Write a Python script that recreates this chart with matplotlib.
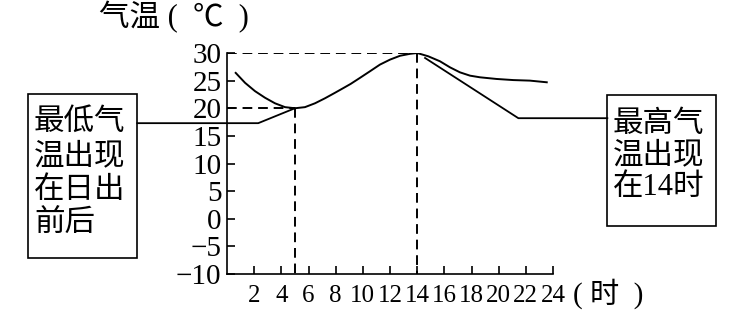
import matplotlib
matplotlib.use('Agg')
import matplotlib.pyplot as plt
from matplotlib.patches import Rectangle

# ---- data ----
hours = [0.64, 1.33, 2.06, 2.8, 3.53, 4.27, 5.0, 5.74, 6.48, 7.21, 7.95, 8.6,
         9.1, 9.79, 10.53, 11.26, 12.0, 12.74, 13.47, 14.0, 14.82, 15.68,
         16.42, 17.15, 17.89, 18.63, 19.85, 21.08, 22.3, 23.54]
temps = [26.4, 24.6, 23.1, 21.9, 20.9, 20.2, 20.0, 20.2, 20.9, 21.8, 22.8, 23.7,
         24.4, 25.5, 26.7, 27.9, 28.8, 29.5, 29.85, 30.0, 29.4, 28.5,
         27.4, 26.5, 25.9, 25.6, 25.3, 25.1, 25.0, 24.7]
min_hour, min_temp = 5.0, 20.0
max_hour, max_temp = 14.0, 30.0
xticks = list(range(2, 25, 2))
yticks = list(range(-10, 31, 5))
ytick_labels = [str(v).replace('-', '\u2212') for v in yticks]
left_callout_x = [-6.6, 2.3, 5.0]
left_callout_y = [17.3, 17.3, 20.0]
right_callout_x = [14.58, 21.45, 28.0]
right_callout_y = [29.1, 18.2, 18.2]
title_text = '气温 (  ℃  )'
xunit_text = '( 时  )'
left_box_text = '最低气\n温出现\n在日出\n前后'
right_box_text = '最高气\n温出现\n在14时'

W, H = 753, 321
fig = plt.figure(figsize=(W / 100, H / 100), dpi=100)

def fx(px):
    return px / W

def fy(py):
    return 1 - py / H

serif = ['Liberation Serif', 'Noto Sans CJK SC']
cjk = ['Noto Sans CJK SC', 'DejaVu Sans']

ax = fig.add_axes([fx(227), fy(274), 326 / W, 221 / H])
ax.set_xlim(0, 24)
ax.set_ylim(-10, 30)
lw = 1.2
for s in ['top', 'right']:
    ax.spines[s].set_visible(False)
for s in ['left', 'bottom']:
    ax.spines[s].set_linewidth(lw)

ax.set_xticks(xticks)
ax.set_xticklabels([str(v) for v in xticks], family=serif, fontsize=18)
ax.set_yticks(yticks)
ax.set_yticklabels(ytick_labels, family=serif, fontsize=21)
ax.tick_params(axis='both', direction='in', length=6, width=lw)
ax.tick_params(axis='x', pad=8)
ax.tick_params(axis='y', pad=4)

ax.plot(hours, temps, color='black', lw=1.4, solid_joinstyle='round')

dash = (0, (5, 3))
dlw = 1.4
ax.plot([0, max_hour], [max_temp, max_temp], color='black', lw=dlw, ls=dash)
ax.plot([max_hour, max_hour], [max_temp, -10], color='black', lw=dlw, ls=dash)
ax.plot([0, min_hour], [min_temp, min_temp], color='black', lw=dlw, ls=dash)
ax.plot([min_hour, min_hour], [min_temp, -10], color='black', lw=dlw, ls=dash)

ax.plot(left_callout_x, left_callout_y, color='black', lw=1.3, clip_on=False)
ax.plot(right_callout_x, right_callout_y, color='black', lw=1.3, clip_on=False)

# boxes
for (x0, y0, x1, y1) in [(28, 94, 137, 258), (607, 95, 716, 226)]:
    fig.patches.append(Rectangle((fx(x0), fy(y1)), fx(x1) - fx(x0), fy(y0) - fy(y1),
                                 transform=fig.transFigure, fill=False,
                                 edgecolor='black', lw=lw))

fig.text(fx(34), fy(106), left_box_text, family=cjk, fontsize=22,
         ha='left', va='top', linespacing=1.12)
fig.text(fx(613), fy(110), right_box_text, family=serif, fontsize=22,
         ha='left', va='top', linespacing=1.12)

fig.text(fx(99), fy(17), title_text, family=serif, fontsize=22, ha='left', va='center')
fig.text(fx(573), fy(294), xunit_text, family=serif, fontsize=21, ha='left', va='center')

fig.savefig('out.png', dpi=100)
